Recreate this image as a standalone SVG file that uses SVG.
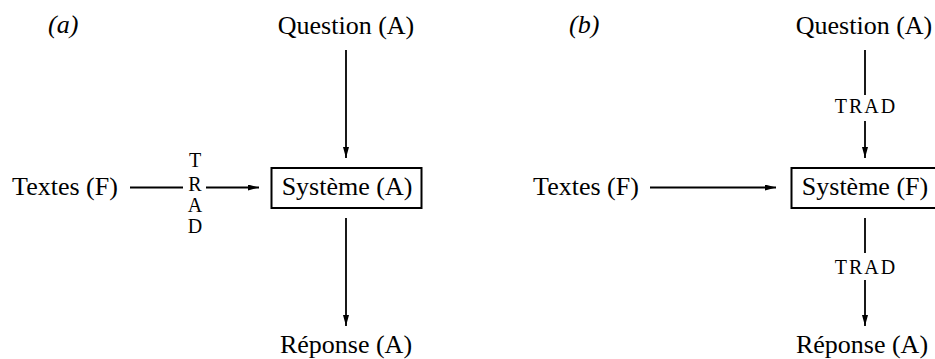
<svg xmlns="http://www.w3.org/2000/svg" width="935" height="359" viewBox="0 0 935 359">
<style>
text{font-family:"Liberation Serif","Times New Roman",serif;fill:#000}
.lbl{font-size:26px;text-anchor:middle}
.it{font-size:26px;font-style:italic}
.trad{font-size:20px;text-anchor:middle}
.tradh{font-size:20px;text-anchor:middle;letter-spacing:2px}
.box{fill:none;stroke:#000;stroke-width:2}
.c{stroke:#000;stroke-width:1.8;fill:none}
.a{stroke:#000;stroke-width:1.8;fill:none;marker-end:url(#ah)}
</style>
<defs>
<marker id="ah" viewBox="0 0 11 6" refX="11" refY="3" markerWidth="11" markerHeight="6" markerUnits="userSpaceOnUse" orient="auto">
<path d="M0,0 L11,3 L0,6 Z" fill="#000"/>
</marker>
</defs>
<g id="label-a"><text class="it" x="48" y="33">(a)</text></g>
<g id="label-b"><text class="it" x="569" y="33">(b)</text></g>
<g id="a-question"><text class="lbl" x="346" y="34">Question (A)</text></g>
<g id="a-systeme"><rect class="box" x="271.5" y="168" width="150" height="40"/><text class="lbl" x="347" y="195">Système (A)</text></g>
<g id="a-reponse"><text class="lbl" x="346" y="353">Réponse (A)</text></g>
<g id="a-textes"><text class="lbl" x="65" y="195">Textes (F)</text></g>
<g id="b-question"><text class="lbl" x="864" y="34">Question (A)</text></g>
<g id="b-systeme"><rect class="box" x="791.5" y="168" width="150" height="40"/><text class="lbl" x="865" y="195">Système (F)</text></g>
<g id="b-reponse"><text class="lbl" x="862" y="353">Réponse (A)</text></g>
<g id="b-textes"><text class="lbl" x="586" y="195">Textes (F)</text></g>
<g id="connectors">
<line class="a" x1="346" y1="50" x2="346" y2="158"/>
<line class="a" x1="346" y1="218" x2="346" y2="326"/>
<line class="c" x1="130" y1="187.5" x2="183" y2="187.5"/>
<line class="a" x1="206" y1="187.5" x2="259" y2="187.5"/>
<text class="trad" x="195" y="167">T</text>
<text class="trad" x="195" y="191">R</text>
<text class="trad" x="195" y="212">A</text>
<text class="trad" x="195" y="233">D</text>
<line class="c" x1="865" y1="50" x2="865" y2="95"/>
<text class="tradh" x="866" y="113">TRAD</text>
<line class="a" x1="865" y1="121" x2="865" y2="158"/>
<line class="a" x1="650" y1="187.5" x2="776" y2="187.5"/>
<line class="c" x1="865" y1="218" x2="865" y2="253"/>
<text class="tradh" x="866" y="274">TRAD</text>
<line class="a" x1="865" y1="280" x2="865" y2="326"/>
</g>
</svg>
